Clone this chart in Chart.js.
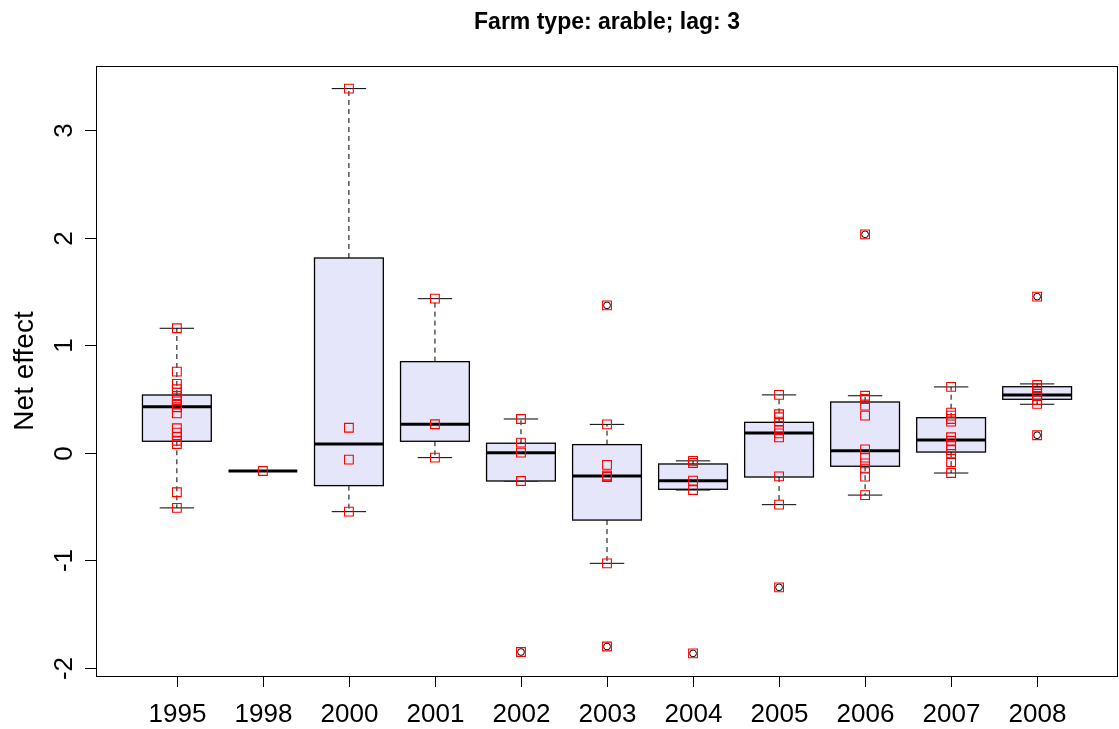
<!DOCTYPE html>
<html>
<head>
<meta charset="utf-8">
<script src="https://cdn.jsdelivr.net/npm/chart.js@4.4.1/dist/chart.umd.min.js"></script>
<style>
  html, body { margin: 0; padding: 0; background: #fff; overflow: hidden; }
  #wrap { width: 1119px; height: 729px; }
  canvas { display: block; }
</style>
</head>
<body>
<div id="wrap"><canvas id="myChart" width="1119" height="729"></canvas></div>
<script>
const title = 'Farm type: arable; lag: 3';
const yLabel = 'Net effect';
const years = ['1995', '1998', '2000', '2001', '2002', '2003', '2004', '2005', '2006', '2007', '2008'];
const yTicks = [-2, -1, 0, 1, 2, 3];

// box statistics
const whiskerLow  = [-0.512, -0.169, -0.547, -0.045, -0.262, -1.027, -0.346, -0.482, -0.393, -0.188, 0.451];
const q1          = [ 0.107, -0.169, -0.305,  0.107, -0.262, -0.625, -0.339, -0.225, -0.125,  0.007, 0.497];
const medians     = [ 0.428, -0.169,  0.082,  0.265,  0.000, -0.216, -0.259,  0.184,  0.020,  0.119, 0.537];
const q3          = [ 0.537, -0.169,  1.810,  0.847,  0.089,  0.076, -0.104,  0.283,  0.472,  0.326, 0.614];
const whiskerHigh = [ 1.157, -0.169,  3.384,  1.432,  0.314,  0.264, -0.075,  0.538,  0.530,  0.612, 0.640];

// individual observations per year
const p1995 = [1.157, 0.754, 0.64, 0.59, 0.559, 0.528, 0.49, 0.454, 0.423, 0.367, 0.228, 0.187, 0.15, 0.112, 0.082, -0.367, -0.512];
const p1998 = [-0.169];
const p2000 = [3.384, 0.233, -0.064, -0.547];
const p2001 = [1.432, 0.265, -0.045];
const p2002 = [0.314, 0.094, 0.001, -0.262, -1.851];
const p2003 = [1.37, 0.264, -0.112, -0.21, -0.22, -0.225, -1.027, -1.80];
const p2004 = [-0.075, -0.095, -0.259, -0.346, -1.864];
const p2005 = [0.538, 0.358, 0.33, 0.289, 0.212, 0.181, 0.144, -0.219, -0.482, -1.25];
const p2006 = [2.03, 0.53, 0.5, 0.438, 0.345, 0.032, -0.045, -0.098, -0.147, -0.222, -0.393];
const p2007 = [0.612, 0.373, 0.345, 0.314, 0.289, 0.144, 0.112, 0.072, 0.026, -0.011, -0.088, -0.188];
const p2008 = [1.451, 0.63, 0.6, 0.568, 0.528, 0.49, 0.454, 0.163];
const observations = [p1995, p1998, p2000, p2001, p2002, p2003, p2004, p2005, p2006, p2007, p2008];

// values beyond the whiskers (drawn as circles by the boxplot)
const outliers = [[], [], [], [], [-1.851], [1.37, -1.80], [-1.864], [-1.25], [2.03], [], [1.451, 0.163]];

const FONT = '"Liberation Sans", Arial, Helvetica, sans-serif';

const toPoints = (groups) => {
    const pts = [];
    groups.forEach((vals, i) => vals.forEach(v => pts.push({ x: i + 1, y: v })));
    return pts;
};

const boxplotPlugin = {
    id: 'boxplot',
    beforeDatasetsDraw(chart) {
        const ctx = chart.ctx;
        const xs = chart.scales.x, ys = chart.scales.y;
        ctx.save();
        years.forEach((yr, i) => {
            const cx = xs.getPixelForValue(i + 1);
            const half = (xs.getPixelForValue(i + 1.4) - xs.getPixelForValue(i + 0.6)) / 2;
            const staple = half / 2;
            const yLo = ys.getPixelForValue(whiskerLow[i]);
            const yQ1 = ys.getPixelForValue(q1[i]);
            const yMed = ys.getPixelForValue(medians[i]);
            const yQ3 = ys.getPixelForValue(q3[i]);
            const yHi = ys.getPixelForValue(whiskerHigh[i]);

            // whiskers
            ctx.strokeStyle = '#000';
            ctx.lineWidth = 1;
            ctx.setLineDash([5, 4]);
            ctx.beginPath();
            ctx.moveTo(cx, yQ3); ctx.lineTo(cx, yHi);
            ctx.moveTo(cx, yQ1); ctx.lineTo(cx, yLo);
            ctx.stroke();
            ctx.setLineDash([]);
            ctx.beginPath();
            ctx.moveTo(cx - staple, yHi); ctx.lineTo(cx + staple, yHi);
            ctx.moveTo(cx - staple, yLo); ctx.lineTo(cx + staple, yLo);
            ctx.stroke();

            // box
            if (yQ1 - yQ3 > 0.5) {
                ctx.fillStyle = '#E6E6FA';
                ctx.fillRect(cx - half, yQ3, 2 * half, yQ1 - yQ3);
                ctx.lineWidth = 1.3;
                ctx.strokeRect(cx - half, yQ3, 2 * half, yQ1 - yQ3);
            }
            // median
            ctx.lineWidth = 3;
            ctx.beginPath();
            ctx.moveTo(cx - half, yMed); ctx.lineTo(cx + half, yMed);
            ctx.stroke();
        });
        ctx.restore();
    },
    afterDraw(chart) {
        const ctx = chart.ctx;
        const xs = chart.scales.x, ys = chart.scales.y;
        const area = chart.chartArea;
        ctx.save();
        ctx.strokeStyle = '#000';
        ctx.lineWidth = 1;
        // frame
        ctx.strokeRect(area.left + 0.5, area.top + 0.5, area.right - area.left - 1, area.bottom - area.top);

        ctx.fillStyle = '#000';
        ctx.font = '26px ' + FONT;
        // x ticks and labels
        ctx.textAlign = 'center';
        ctx.textBaseline = 'alphabetic';
        years.forEach((yr, i) => {
            const x = Math.round(xs.getPixelForValue(i + 1)) + 0.5;
            ctx.beginPath();
            ctx.moveTo(x, area.bottom); ctx.lineTo(x, area.bottom + 11);
            ctx.stroke();
            ctx.fillText(yr, x, area.bottom + 46);
        });
        // y ticks and rotated labels
        yTicks.forEach(v => {
            const y = Math.round(ys.getPixelForValue(v)) + 0.5;
            ctx.beginPath();
            ctx.moveTo(area.left, y); ctx.lineTo(area.left - 11, y);
            ctx.stroke();
            ctx.save();
            ctx.translate(area.left - 24, y);
            ctx.rotate(-Math.PI / 2);
            ctx.textAlign = 'center';
            ctx.textBaseline = 'alphabetic';
            ctx.fillText(String(v), 0, 0);
            ctx.restore();
        });
        // y axis title
        ctx.save();
        ctx.font = '28px ' + FONT;
        ctx.translate(33, (area.top + area.bottom) / 2);
        ctx.rotate(-Math.PI / 2);
        ctx.textAlign = 'center';
        ctx.fillText(yLabel, 0, 0);
        ctx.restore();
        // main title
        ctx.font = 'bold 23px ' + FONT;
        ctx.textAlign = 'center';
        ctx.fillText(title, (area.left + area.right) / 2, 29);
        ctx.restore();
    }
};

const renderChart = () => {
    const ctx = document.getElementById('myChart').getContext('2d');
    new Chart(ctx, {
        type: 'scatter',
        data: {
            datasets: [{
                label: 'observations',
                data: toPoints(observations),
                pointStyle: 'rect',
                pointRadius: 6.2,
                borderColor: '#FF0000',
                backgroundColor: 'rgba(0,0,0,0)',
                borderWidth: 1.1
            }, {
                label: 'outliers',
                data: toPoints(outliers),
                pointStyle: 'circle',
                pointRadius: 3.4,
                borderColor: '#000',
                backgroundColor: 'rgba(0,0,0,0)',
                borderWidth: 1
            }]
        },
        options: {
            responsive: false,
            animation: false,
            devicePixelRatio: 1,
            layout: { autoPadding: false, padding: { left: 96, top: 66, right: 1, bottom: 53 } },
            scales: {
                x: { type: 'linear', min: 0.06, max: 11.94, display: false },
                y: { type: 'linear', min: -2.074, max: 3.594, display: false }
            },
            plugins: {
                legend: { display: false },
                tooltip: { enabled: false },
                title: { display: false }
            }
        },
        plugins: [boxplotPlugin]
    });
};

document.addEventListener('DOMContentLoaded', renderChart);
</script>
</body>
</html>
